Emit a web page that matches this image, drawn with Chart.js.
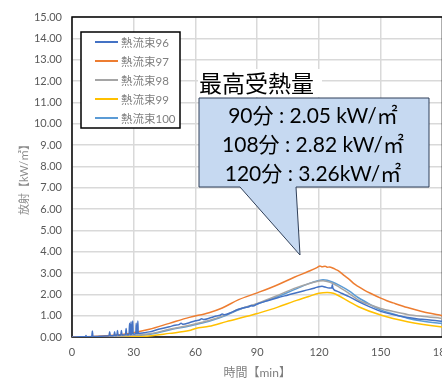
<!DOCTYPE html>
<html>
<head>
<meta charset="utf-8">
<script src="https://cdn.jsdelivr.net/npm/chart.js@4.4.1/dist/chart.umd.min.js"></script>
<style>
  html, body { margin: 0; padding: 0; background: #fff; overflow: hidden; }
  #wrap { position: relative; width: 461px; height: 380px; }
</style>
</head>
<body>
<div id="wrap"><canvas id="heatChart"></canvas></div>
<script>
// series names
const seriesNames = ['熱流束96', '熱流束97', '熱流束98', '熱流束99', '熱流束100'];
const seriesColors = ['#4472c4', '#ed7d31', '#a5a5a5', '#ffc000', '#5b9bd5'];

// 熱流束96 (noisy start)
const t96 = [0, 4, 6.6, 6.8, 7, 9.6, 9.9, 10.2, 13, 16, 18, 18.3, 18.6, 20.4, 20.7, 21, 21.8, 22.1, 22.4,
  23.7, 24, 24.3, 26, 26.3, 26.6, 27.7, 28, 28.3, 28.5, 28.7, 28.9, 29.3, 29.5, 29.7, 31, 31.2, 31.4,
  31.8, 32, 32.2, 35, 37.6, 42, 47.3, 50, 52, 53, 54, 57, 60, 62, 63, 64, 66.6, 70, 72, 73, 74, 78, 81,
  84, 86, 87, 88, 90, 95, 100, 105, 110, 115, 118, 120, 121.5, 123, 125, 126.2, 126.5, 126.8, 129, 131,
  134.6, 139.2, 145, 150, 156, 163, 170, 175, 180];
const v96 = [0, 0.01, 0.01, 0.07, 0.01, 0.02, 0.28, 0.02, 0.03, 0.05, 0.06, 0.25, 0.06, 0.07, 0.25, 0.07, 0.08, 0.3, 0.08,
  0.09, 0.3, 0.09, 0.11, 0.4, 0.11, 0.12, 0.64, 0.12, 0.13, 0.72, 0.13, 0.14, 0.75, 0.14, 0.16, 0.64, 0.16,
  0.17, 0.75, 0.17, 0.2, 0.24, 0.36, 0.48, 0.55, 0.58, 0.64, 0.6, 0.67, 0.76, 0.8, 0.86, 0.82, 0.88, 0.98, 1.02, 1.08, 1.04, 1.18, 1.3,
  1.38, 1.42, 1.48, 1.45, 1.55, 1.7, 1.84, 1.97, 2.1, 2.22, 2.3, 2.36, 2.38, 2.34, 2.3, 2.3, 2.45, 2.28, 2.14, 2.05,
  1.89, 1.66, 1.4, 1.2, 1.05, 0.91, 0.83, 0.78, 0.74];

// 熱流束97
const t97 = [0, 10, 20, 27.9, 37.6, 47.3, 57, 66.6, 73, 81, 90, 100, 108, 115, 119, 120.5, 121.5, 123, 124, 125, 127,
  128, 129.5, 132, 135, 137, 139.2, 142, 145, 150, 153, 156, 163, 170, 178.7, 180];
const v97 = [0, 0.02, 0.08, 0.17, 0.36, 0.64, 0.92, 1.14, 1.36, 1.75, 2.07, 2.45, 2.8, 3.08, 3.25, 3.33, 3.29, 3.32, 3.27, 3.28, 3.22,
  3.17, 3.1, 2.9, 2.68, 2.5, 2.36, 2.2, 2.05, 1.82, 1.7, 1.6, 1.38, 1.2, 1.03, 1.0];

// 熱流束98
const t98 = [0, 20, 30, 37.6, 47.3, 57, 66.6, 75, 81, 90, 100, 108, 115, 120, 122, 124, 126.5, 130, 134.6, 139.2, 145, 150, 156, 163, 170, 179, 180];
const v98 = [0, 0.03, 0.08, 0.15, 0.36, 0.55, 0.77, 1.05, 1.3, 1.57, 1.95, 2.28, 2.5, 2.62, 2.64, 2.6, 2.52, 2.33, 2.05, 1.73, 1.5, 1.34, 1.2, 1.06, 0.97, 0.88, 0.87];

// 熱流束99
const t99 = [0, 20, 25, 30, 37.6, 47.3, 57, 60, 66.6, 75, 87.5, 90, 100, 108, 115, 120, 124, 127, 134.6, 139.2, 150, 163, 179, 180];
const v99 = [0, 0, 0.01, 0.02, 0.05, 0.17, 0.3, 0.4, 0.5, 0.72, 1.03, 1.1, 1.4, 1.68, 1.9, 2.05, 2.09, 2.05, 1.66, 1.42, 1.03, 0.72, 0.48, 0.47];

// 熱流束100
const t100 = [0, 20, 30, 37.6, 47.3, 57, 66.6, 75, 81, 90, 100, 108, 115, 120, 122, 124, 126.5, 130, 134.6, 139.2, 145, 150, 156, 163, 170, 179, 180];
const v100 = [0, 0.02, 0.06, 0.12, 0.33, 0.52, 0.74, 1.02, 1.28, 1.55, 1.9, 2.22, 2.5, 2.65, 2.68, 2.66, 2.58, 2.42, 2.16, 1.84, 1.52, 1.27, 1.08, 0.88, 0.75, 0.64, 0.63];

// axis ticks
const xTicks = [0, 30, 60, 90, 120, 150, 180];
const yMin = 0, yMax = 15, yStep = 1;

// callout text
const calloutTitle = '最高受熱量';
const calloutLines = ['90分 : 2.05 kW/㎡', '108分 : 2.82 kW/㎡', '120分 : 3.26kW/㎡'];

const allT = [t96, t97, t98, t99, t100];
const allV = [v96, v97, v98, v99, v100];

const fontStack = 'Lato, "Noto Sans CJK JP", sans-serif';

// legend box + callout drawn on canvas
const overlay = {
    id: 'overlay',
    beforeDatasetsDraw(chart) {
        const { ctx, chartArea: a } = chart;
        ctx.save();
        ctx.strokeStyle = '#000';
        ctx.lineWidth = 1.5;
        ctx.strokeRect(a.left, a.top, a.right - a.left, a.bottom - a.top);
        ctx.restore();
    },
    afterDraw(chart) {
        const ctx = chart.ctx;
        ctx.save();
        // legend
        ctx.fillStyle = '#fff';
        ctx.fillRect(81, 32, 99, 96);
        ctx.strokeStyle = '#000';
        ctx.lineWidth = 1.5;
        ctx.strokeRect(81, 32, 99, 96);
        ctx.font = '11.5px ' + fontStack;
        ctx.textBaseline = 'middle';
        seriesNames.forEach((name, i) => {
            const y = 42 + i * 19;
            ctx.strokeStyle = seriesColors[i];
            ctx.lineWidth = 2;
            ctx.beginPath();
            ctx.moveTo(95, y);
            ctx.lineTo(118, y);
            ctx.stroke();
            ctx.fillStyle = '#7f7f7f';
            ctx.fillText(name, 121, y + 1);
        });

        // callout title
        ctx.fillStyle = '#fff';
        ctx.fillRect(198, 69, 124, 28);
        ctx.fillStyle = '#000';
        ctx.font = '23px "Noto Sans CJK JP", sans-serif';
        ctx.textBaseline = 'middle';
        ctx.fillText(calloutTitle, 199, 83);

        // speech bubble
        ctx.beginPath();
        ctx.moveTo(199, 98);
        ctx.lineTo(429, 98);
        ctx.lineTo(429, 187);
        ctx.lineTo(296, 187);
        ctx.lineTo(300, 255);
        ctx.lineTo(240, 187);
        ctx.lineTo(199, 187);
        ctx.closePath();
        ctx.fillStyle = '#c6d9f1';
        ctx.fill();
        ctx.strokeStyle = '#2f3f58';
        ctx.lineWidth = 1;
        ctx.stroke();

        ctx.fillStyle = '#000';
        ctx.font = '21px ' + fontStack;
        ctx.textAlign = 'center';
        calloutLines.forEach((s, i) => {
            ctx.fillText(s, 313, 116 + i * 29);
        });
        ctx.restore();
    }
};

new Chart(document.getElementById('heatChart'), {
    type: 'line',
    data: {
        datasets: seriesNames.map((name, i) => ({
            label: name,
            data: allT[i].map((t, j) => ({ x: t, y: allV[i][j] })),
            borderColor: seriesColors[i],
            backgroundColor: seriesColors[i],
            borderWidth: 1.5,
            pointRadius: 0,
            cubicInterpolationMode: 'monotone',
            fill: false
        }))
    },
    options: {
        responsive: true,
        maintainAspectRatio: false,
        animation: false,
        layout: { padding: { top: 17, left: 0, right: 0, bottom: 0 } },
        plugins: {
            legend: { display: false },
            tooltip: { enabled: false }
        },
        scales: {
            x: {
                type: 'linear',
                min: 0,
                max: 180,
                afterBuildTicks: (scale) => { scale.ticks = xTicks.map(v => ({ value: v })); },
                afterFit: (scale) => { scale.height = 43; },
                grid: { color: '#d9d9d9', lineWidth: 1.5, drawTicks: false },
                border: { display: false },
                ticks: { color: '#595959', font: { size: 11, family: fontStack }, padding: 9, maxRotation: 0 },
                title: { display: true, text: '時間【min】', color: '#7f7f7f', font: { size: 12, family: fontStack }, padding: { top: 4, bottom: 0 } }
            },
            y: {
                min: yMin,
                max: yMax,
                afterFit: (scale) => { scale.width = 72; },
                grid: { color: '#d9d9d9', lineWidth: 1.5, drawTicks: false },
                border: { display: false },
                ticks: {
                    stepSize: yStep,
                    color: '#595959',
                    font: { size: 11, family: fontStack },
                    padding: 10,
                    callback: (v) => v.toFixed(2)
                },
                title: { display: true, text: '放射【kW/㎡】', color: '#8c8c8c', font: { size: 11, family: fontStack }, padding: { top: 18, bottom: 0 } }
            }
        }
    },
    plugins: [overlay]
});
</script>
</body>
</html>
